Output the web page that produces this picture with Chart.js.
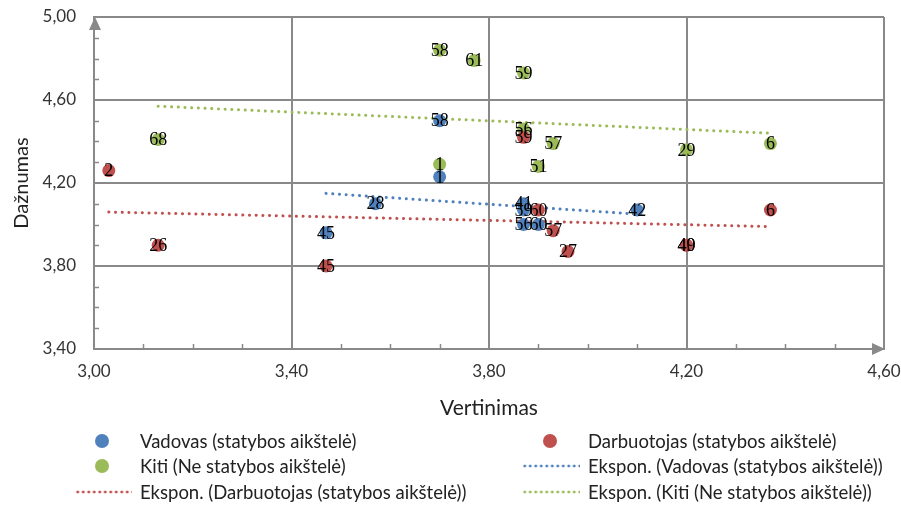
<!DOCTYPE html>
<html>
<head>
<meta charset="utf-8">
<script src="https://cdn.jsdelivr.net/npm/chart.js@4"></script>
<style>
    body { margin: 0; background: #fff; }
    #wrap { position: relative; width: 901px; height: 506px; }
    .legend-item { position: absolute; font-family: Lato, sans-serif; font-size: 18.5px; color: #222; line-height: 22px; white-space: nowrap; }
    .dot { position: absolute; width: 14px; height: 14px; border-radius: 50%; }
    .dash { position: absolute; height: 4px;
        background-size: 5.5px 4px; background-repeat: repeat-x; }
</style>
</head>
<body>
<div id="wrap">
    <canvas id="myChart" width="901" height="506"></canvas>
</div>
<script>
// Vadovas (statybos aikštelė)
const vadovasX = [3.70, 3.70, 3.57, 3.47, 3.87, 3.87, 3.87, 3.90, 4.10];
const vadovasY = [4.50, 4.23, 4.10, 3.96, 4.10, 4.07, 4.00, 4.00, 4.07];
const vadovasLabels = ["58", "1", "28", "45", "41", "59", "56", "60", "42"];

// Darbuotojas (statybos aikštelė)
const darbX = [3.03, 3.13, 3.47, 3.87, 3.90, 3.93, 3.96, 4.20, 4.20, 4.37];
const darbY = [4.26, 3.90, 3.80, 4.42, 4.07, 3.97, 3.87, 3.90, 3.90, 4.07];
const darbLabels = ["2", "26", "45", "59", "60", "57", "27", "40", "49", "6"];

// Kiti (Ne statybos aikštelė)
const kitiX = [3.70, 3.77, 3.87, 3.13, 3.87, 3.93, 3.70, 3.90, 4.20, 4.37];
const kitiY = [4.84, 4.79, 4.73, 4.41, 4.46, 4.39, 4.29, 4.28, 4.36, 4.39];
const kitiLabels = ["58", "61", "59", "68", "56", "57", "1", "51", "29", "6"];

// trendline ends
const trendVadovasX = [3.47, 4.10];
const trendVadovasY = [4.15, 4.05];
const trendDarbX = [3.03, 4.37];
const trendDarbY = [4.06, 3.99];
const trendKitiX = [3.13, 4.37];
const trendKitiY = [4.57, 4.44];

const xTicks = [3.0, 3.4, 3.8, 4.2, 4.6];
const yTicks = [3.4, 3.8, 4.2, 4.6, 5.0];

const BLUE = "#4f81bd";
const RED = "#c0504d";
const GREEN = "#9bbb59";
const AXIS = "#898989";

function toPoints(xs, ys) {
    return xs.map((x, i) => ({ x: x, y: ys[i] }));
}

function fmt(v) {
    return v.toFixed(2).replace(".", ",");
}

const pointLabels = {
    id: "pointLabels",
    afterDatasetsDraw(chart) {
        const ctx = chart.ctx;
        ctx.save();
        ctx.font = "18px 'Liberation Serif', serif";
        ctx.fillStyle = "#000";
        ctx.textAlign = "center";
        ctx.textBaseline = "middle";
        chart.data.datasets.forEach((ds, i) => {
            if (!ds.pointLabels) return;
            chart.getDatasetMeta(i).data.forEach((el, j) => {
                ctx.fillText(ds.pointLabels[j], el.x, el.y + 1);
            });
        });
        ctx.restore();
    }
};

const axisDecor = {
    id: "axisDecor",
    afterDraw(chart) {
        const ctx = chart.ctx;
        const xs = chart.scales.x;
        const ys = chart.scales.y;
        const area = chart.chartArea;
        ctx.save();
        ctx.strokeStyle = AXIS;
        ctx.fillStyle = AXIS;
        ctx.lineWidth = 1.5;
        // minor ticks every 0.1, pointing into the plot
        for (let k = 1; k < 16; k++) {
            if (k % 4 === 0) continue;
            const px = Math.round(xs.getPixelForValue(3 + k * 0.1)) + 0.5;
            ctx.beginPath();
            ctx.moveTo(px, area.bottom);
            ctx.lineTo(px, area.bottom - 5);
            ctx.stroke();
            const py = Math.round(ys.getPixelForValue(3.4 + k * 0.1)) + 0.5;
            ctx.beginPath();
            ctx.moveTo(area.left, py);
            ctx.lineTo(area.left + 5, py);
            ctx.stroke();
        }
        // arrow heads
        ctx.beginPath();
        ctx.moveTo(area.left + 1, area.top);
        ctx.lineTo(area.left - 5, area.top + 13);
        ctx.lineTo(area.left + 7, area.top + 13);
        ctx.closePath();
        ctx.fill();
        ctx.beginPath();
        ctx.moveTo(area.right + 1, area.bottom);
        ctx.lineTo(area.right - 12, area.bottom - 6);
        ctx.lineTo(area.right - 12, area.bottom + 6);
        ctx.closePath();
        ctx.fill();
        ctx.restore();
    }
};

const dotted = [0.1, 6.6];

function trendSet(label, xs, ys, color) {
    return {
        label: label,
        data: toPoints(xs, ys),
        showLine: true,
        borderColor: color,
        borderWidth: 3,
        borderDash: dotted,
        borderCapStyle: "round",
        pointRadius: 0
    };
}

new Chart("myChart", {
    type: "scatter",
    data: {
        datasets: [{
            label: "Vadovas (statybos aikštelė)",
            data: toPoints(vadovasX, vadovasY),
            pointLabels: vadovasLabels,
            backgroundColor: BLUE,
            borderWidth: 0,
            pointRadius: 6.5
        }, {
            label: "Darbuotojas (statybos aikštelė)",
            data: toPoints(darbX, darbY),
            pointLabels: darbLabels,
            backgroundColor: RED,
            borderWidth: 0,
            pointRadius: 6.5
        }, {
            label: "Kiti (Ne statybos aikštelė)",
            data: toPoints(kitiX, kitiY),
            pointLabels: kitiLabels,
            backgroundColor: GREEN,
            borderWidth: 0,
            pointRadius: 6.5
        },
        trendSet("Ekspon. (Vadovas (statybos aikštelė))", trendVadovasX, trendVadovasY, BLUE),
        trendSet("Ekspon. (Darbuotojas (statybos aikštelė))", trendDarbX, trendDarbY, RED),
        trendSet("Ekspon. (Kiti (Ne statybos aikštelė))", trendKitiX, trendKitiY, GREEN)
        ]
    },
    options: {
        responsive: false,
        animation: false,
        layout: { padding: { left: 0, top: 17, right: 17, bottom: 84 } },
        plugins: {
            legend: { display: false },
            tooltip: { enabled: false }
        },
        scales: {
            x: {
                type: "linear",
                min: 3.0,
                max: 4.6,
                afterBuildTicks: (s) => { s.ticks = xTicks.map(v => ({ value: v })); },
                afterFit: (s) => {
                    s.height = 73;
                    s.paddingLeft = 0;
                    s.paddingRight = 0;
                },
                grid: { color: AXIS, lineWidth: 2, drawTicks: false },
                border: { color: AXIS, width: 2 },
                ticks: {
                    padding: 12,
                    color: "#333",
                    font: { family: "Lato", size: 17 },
                    callback: (v) => fmt(v)
                },
                title: {
                    display: true,
                    text: "Vertinimas",
                    color: "#222",
                    font: { family: "Lato", size: 21 },
                    padding: { top: 0, bottom: 1 }
                }
            },
            y: {
                type: "linear",
                min: 3.4,
                max: 5.0,
                afterBuildTicks: (s) => { s.ticks = yTicks.map(v => ({ value: v })); },
                afterFit: (s) => {
                    s.width = 94;
                    s.paddingTop = 0;
                    s.paddingBottom = 0;
                },
                grid: { color: AXIS, lineWidth: 2, drawTicks: false },
                border: { color: AXIS, width: 2 },
                ticks: {
                    padding: 18,
                    color: "#333",
                    font: { family: "Lato", size: 17 },
                    callback: (v) => fmt(v)
                },
                title: {
                    display: true,
                    text: "Dažnumas",
                    color: "#222",
                    font: { family: "Lato", size: 20 },
                    padding: { top: 10, bottom: 0 }
                }
            }
        }
    },
    plugins: [pointLabels, axisDecor]
});

// legend laid out in two columns like the original
const legendRows = [
    { left: 95, cy: 441, kind: "dot", color: BLUE, text: "Vadovas (statybos aikštelė)", tx: 140 },
    { left: 543, cy: 441, kind: "dot", color: RED, text: "Darbuotojas (statybos aikštelė)", tx: 588 },
    { left: 95, cy: 466, kind: "dot", color: GREEN, text: "Kiti (Ne statybos aikštelė)", tx: 140 },
    { left: 522, cy: 466, kind: "dash", color: BLUE, text: "Ekspon. (Vadovas (statybos aikštelė))", tx: 588 },
    { left: 75, cy: 492, kind: "dash", color: RED, text: "Ekspon. (Darbuotojas (statybos aikštelė))", tx: 140 },
    { left: 522, cy: 492, kind: "dash", color: GREEN, text: "Ekspon. (Kiti (Ne statybos aikštelė))", tx: 588 }
];
const wrap = document.getElementById("wrap");
legendRows.forEach(r => {
    const mark = document.createElement("div");
    if (r.kind === "dot") {
        mark.className = "dot";
        mark.style.background = r.color;
        mark.style.left = r.left + "px";
        mark.style.top = (r.cy - 7) + "px";
    } else {
        mark.className = "dash";
        mark.style.left = r.left + "px";
        mark.style.top = (r.cy - 2) + "px";
        mark.style.width = (r.tx - 8 - r.left) + "px";
        mark.style.backgroundImage = "radial-gradient(circle, " + r.color + " 1.2px, transparent 1.7px)";
    }
    wrap.appendChild(mark);
    const label = document.createElement("div");
    label.className = "legend-item";
    label.textContent = r.text;
    label.style.left = r.tx + "px";
    label.style.top = (r.cy - 11) + "px";
    wrap.appendChild(label);
});
</script>
</body>
</html>
